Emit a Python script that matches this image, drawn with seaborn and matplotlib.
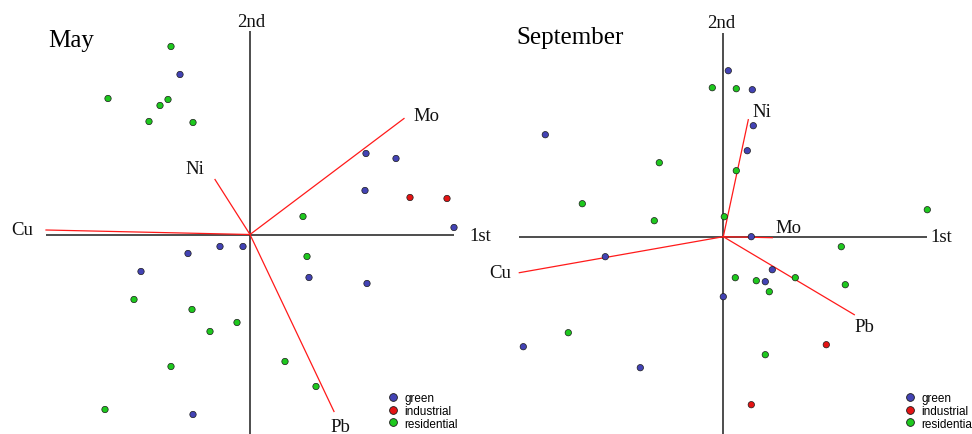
import matplotlib
matplotlib.use("Agg")
import matplotlib.pyplot as plt
from matplotlib.lines import Line2D
import numpy as np
import pandas as pd
import seaborn as sns

# ---- PCA scores (1st, 2nd component) by land-use class ----
may_green_x = [-0.70, 1.16, 1.46, 1.15, 2.04, -0.62, -0.30, -0.07, -1.09, 0.59, 1.17, -0.57]
may_green_y = [1.60, 0.81, 0.76, 0.44, 0.07, -0.19, -0.12, -0.12, -0.37, -0.43, -0.49, -1.80]
may_ind_x = [1.60, 1.97]
may_ind_y = [0.37, 0.36]
may_res_x = [-0.79, -1.42, -0.82, -0.90, -1.01, -0.57, 0.53, 0.57, -1.16, -0.58, -0.13, -0.40,
             -0.79, 0.35, 0.66, -1.45]
may_res_y = [1.88, 1.36, 1.35, 1.29, 1.13, 1.12, 0.18, -0.22, -0.65, -0.75, -0.88, -0.97,
             -1.32, -1.27, -1.52, -1.75]

sep_green_x = [0.05, 0.29, 0.30, 0.24, -1.78, 0.28, -1.18, 0.49, 0.42, 0.00, -2.00, -0.83]
sep_green_y = [1.66, 1.47, 1.11, 0.86, 1.02, 0.00, -0.20, -0.33, -0.45, -0.60, -1.10, -1.31]
sep_ind_x = [1.03, 0.28]
sep_ind_y = [-1.08, -1.68]
sep_res_x = [-0.11, 0.13, 0.13, -0.64, -1.41, 2.04, 0.01, -0.69, 1.18, 0.72, 0.12, 0.33,
             0.46, 1.22, -1.55, 0.42]
sep_res_y = [1.49, 1.48, 0.66, 0.74, 0.33, 0.27, 0.20, 0.16, -0.10, -0.41, -0.41, -0.44,
             -0.55, -0.48, -0.96, -1.18]

# ---- variable loadings ----
metals = ["Cu", "Mo", "Ni", "Pb"]
may_load_x = [-2.04, 1.54, -0.35, 0.84]
may_load_y = [0.045, 1.16, 0.55, -1.77]
sep_load_x = [-2.04, 0.49, 0.25, 1.31]
sep_load_y = [-0.36, -0.01, 1.17, -0.78]

classes = ["green", "industrial", "residential"]
palette = {"green": "#4343b4", "industrial": "#e41414", "residential": "#1ec81e"}
axis_half = 2.04

SERIF = "Liberation Serif"
SANS = "Liberation Sans"


def scores_frame(gx, gy, ix, iy, rx, ry):
    parts = []
    for cls, xs, ys in zip(classes, (gx, ix, rx), (gy, iy, ry)):
        parts.append(pd.DataFrame({"PC1": xs, "PC2": ys, "site": cls}))
    return pd.concat(parts, ignore_index=True)


def label(ax, x, y, text, dx_px, dy_px, size=13.5, family=SERIF):
    ax.annotate(text, (x, y), xytext=(dx_px * 0.72, -dy_px * 0.72),
                textcoords="offset points", ha="center", va="center",
                fontsize=size, family=family, color="#111111", annotation_clip=False)


def biplot(ax, df, lx, ly, label_offsets, first_offset, second_offset):
    # coordinate axes
    ax.plot([-axis_half, axis_half], [0, 0], color="#262626", lw=1.15, zorder=1,
            solid_capstyle="butt")
    ax.plot([0, 0], [-3.0, axis_half], color="#262626", lw=1.15, zorder=1,
            solid_capstyle="butt")
    # loading vectors
    for name, x, y in zip(metals, lx, ly):
        ax.plot([0, x], [0, y], color="#ff1a1a", lw=0.9, zorder=2)
        dx, dy = label_offsets[name]
        label(ax, x, y, name, dx, dy)
    # site scores
    sns.scatterplot(data=df, x="PC1", y="PC2", hue="site", palette=palette,
                    s=21, edgecolor="#1a1a1a", linewidth=0.5, legend=False,
                    ax=ax, zorder=3)
    label(ax, axis_half, 0, "1st", *first_offset)
    label(ax, 0, axis_half, "2nd", *second_offset)
    ax.set_axis_off()


fig = plt.figure(figsize=(9.72, 4.35), dpi=100)
ax1 = fig.add_axes([0.0, 0.0, 0.5, 1.0])
ax2 = fig.add_axes([0.5, 0.0, 0.5, 1.0])

may_df = scores_frame(may_green_x, may_green_y, may_ind_x, may_ind_y, may_res_x, may_res_y)
sep_df = scores_frame(sep_green_x, sep_green_y, sep_ind_x, sep_ind_y, sep_res_x, sep_res_y)

biplot(ax1, may_df, may_load_x, may_load_y,
       {"Cu": (-24, 0), "Mo": (22, -3), "Ni": (-20, -11), "Pb": (6, 15)},
       (26, 1), (1, -9))
biplot(ax2, sep_df, sep_load_x, sep_load_y,
       {"Cu": (-19, 0), "Mo": (16, -10), "Ni": (14, -8), "Pb": (10, 12)},
       (14, 0), (-2, -10))

ax1.set_xlim(-2.50, 2.36)
ax1.set_ylim(-1.995, 2.355)
ax2.set_xlim(-2.373, 2.487)
ax2.set_ylim(-1.973, 2.377)

fig.text(48 / 972, 1 - 47 / 435, "May", fontsize=18, family=SERIF, va="baseline", ha="left")
fig.text(516 / 972, 1 - 44 / 435, "September", fontsize=18, family=SERIF, va="baseline", ha="left")

handles = [Line2D([], [], ls="none", marker="o", markersize=5.6,
                  markerfacecolor=palette[c], markeredgecolor="#1a1a1a",
                  markeredgewidth=0.6) for c in classes]
for ax, left_px in ((ax1, 388.5), (ax2, 905.5)):
    ax.legend(handles, classes, loc="center left",
              bbox_to_anchor=(left_px / 972, 1 - 412 / 435),
              bbox_transform=fig.transFigure, frameon=False,
              prop={"family": SANS, "size": 8.5}, handlelength=0.8,
              handletextpad=0.55, labelspacing=0.05, borderpad=0, borderaxespad=0)

fig.savefig("out.png", dpi=100, facecolor="white")
